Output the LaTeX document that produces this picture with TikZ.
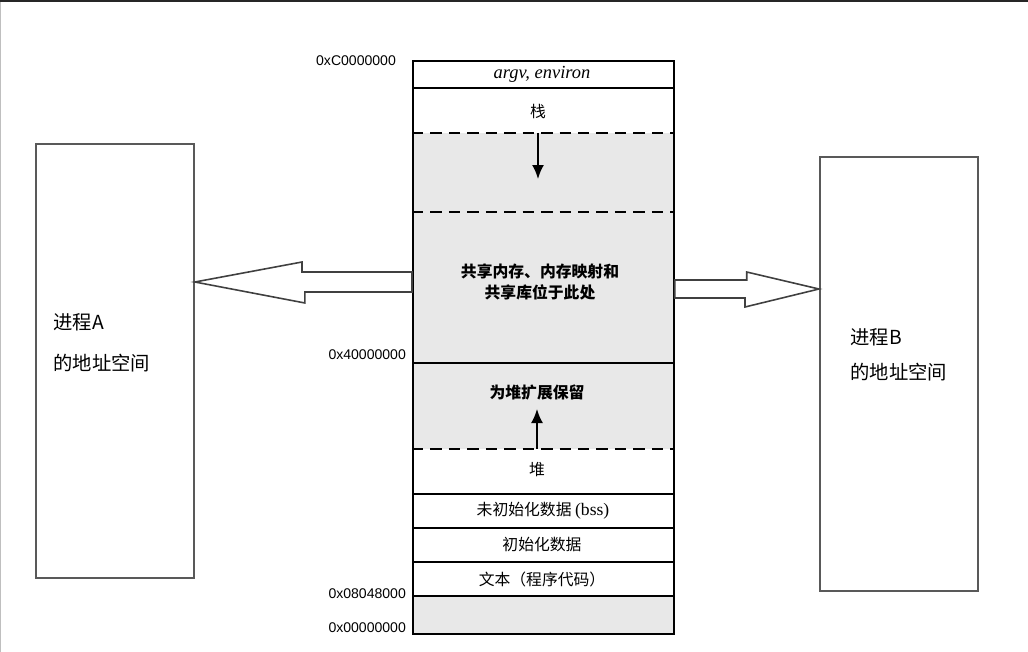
\documentclass[tikz,border=0pt]{standalone}
\usepackage{fontspec}
\setmainfont{Liberation Serif}
\setsansfont{Liberation Sans}
\newfontfamily\cjk{Noto Sans CJK SC}
\usetikzlibrary{arrows.meta,calc,positioning}
\definecolor{memgrey}{HTML}{E8E8E8}

\begin{document}
\begin{tikzpicture}[x=0.02cm,y=-0.02cm,
    seg/.style={font=\cjk\fontsize{9}{12}\selectfont,align=center,inner sep=1pt},
    segbold/.style={seg,font=\cjk\bfseries\fontsize{9}{12}\selectfont},
    addr/.style={font=\sffamily\fontsize{8}{10}\selectfont,anchor=east,inner sep=1pt},
    proc/.style={draw=black!65,line width=1.1pt,minimum width=3.16cm,
                 minimum height=8.68cm,anchor=north west,inner sep=0pt},
    ptext/.style={font=\cjk\fontsize{11}{13}\selectfont,anchor=west,inner sep=0pt},
    sepline/.style={line width=0.9pt},
    dashline/.style={sepline,dash pattern=on 6.5pt off 4pt},
    growarrow/.style={line width=1.1pt,-{Latex[length=2.8mm,width=2.4mm]}},
    bigarrow/.style={draw=black!75,line width=0.9pt,fill=white,line join=miter}
  ]
    \useasboundingbox (0,0) rectangle (1028,652);
    \draw[line width=1.4pt,black!85] (0,1) -- (1028,1);
    \draw[black!25,line width=0.6pt] (0.5,2) -- (0.5,652);

    % grey bands: free area between stack and heap, unmapped bottom
    \fill[memgrey] (412,133) rectangle (673,449);
    \fill[memgrey] (412,596) rectangle (673,633);
    \node[draw,line width=1pt,minimum width=5.22cm,minimum height=11.46cm,
          anchor=north west,inner sep=0pt] (col) at (412,60) {};
    \foreach \y in {88,363,494,528,562,596}
      \draw[sepline] (col.west |- 0,\y) -- (col.east |- 0,\y);
    \foreach \y in {133,212,449}
      \draw[dashline] (col.west |- 0,\y) -- (col.east |- 0,\y);

    \node[seg,font=\itshape\fontsize{10.5}{12}\selectfont] (argv) at (542,74) {argv, environ};
    \node[seg] (stack) at (538,111) {栈};
    \node[segbold] (shm) at (540,282) {共享内存、内存映射和\\共享库位于此处};
    \node[segbold] (resv) at (537,392) {为堆扩展保留};
    \node[seg] (heap) at (537,470) {堆};
    \node[seg] (bss) at (543,511) {未初始化数据 {\rmfamily\fontsize{10}{11}\selectfont(bss)}};
    \node[seg] (data) at (542,545) {初始化数据};
    \node[seg] (text) at (542,579) {文本（程序代码）};

    \node[addr] (aC) at (398,61) {0xC0000000};
    \node[addr] (a4) at (408,355) {0x40000000};
    \node[addr] (a8) at (408,594) {0x08048000};
    \node[addr] (a0) at (408,628) {0x00000000};

    \coordinate (stackEnd) at (538,133);
    \coordinate (heapEnd) at (537,449);
    \draw[growarrow] (stackEnd) -- ++(0,46);
    \draw[growarrow] (heapEnd) -- ++(0,-40);

    \node[proc] (procA) at (35,143) {};
    \node[proc] (procB) at (819,156) {};
    \node[ptext] (nameA) at (53,322) {进程A};
    \node[ptext] (spaceA) at (53,363) {的地址空间};
    \node[ptext] (nameB) at (850,337) {进程B};
    \node[ptext] (spaceB) at (850,372) {的地址空间};

    % block arrows out of the shared region
    \coordinate (outA) at (col.west |- 0,282);
    \coordinate (outB) at (col.east |- 0,289);
    \draw[bigarrow] (outA) ++(0,-10) -- ++(-110,0) -- ++(0,-10) -- (procA.east |- outA)
      -- ++(110,21) -- ++(0,-11) -- ($(outA)+(0,10)$) -- cycle;
    \draw[bigarrow] (outB) ++(0,-9) -- ++(72,0) -- ++(0,-8) -- (procB.west |- outB)
      -- ++(-74,18) -- ++(0,-9) -- ($(outB)+(0,9)$) -- cycle;
\end{tikzpicture}
\end{document}
